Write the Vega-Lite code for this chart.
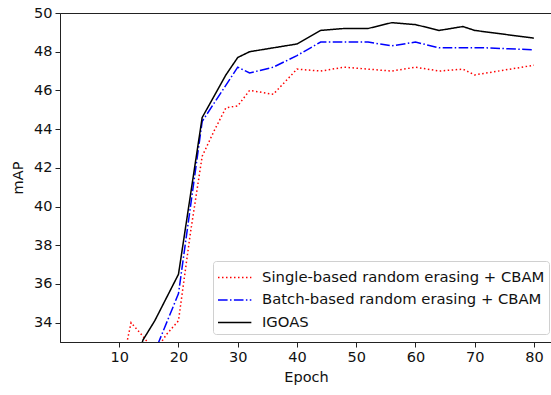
{
  "$schema": "https://vega.github.io/schema/vega-lite/v6.json",
  "width": 492,
  "height": 329,
  "autosize": {"type": "none"},
  "padding": {"left": 60, "top": 13, "right": 0, "bottom": 53},
  "background": "white",
  "config": {
    "view": {"stroke": "#222222", "strokeWidth": 1},
    "font": "DejaVu Sans",
    "axis": {
      "grid": false,
      "domainColor": "#222222",
      "tickColor": "#222222",
      "tickSize": 5,
      "labelFontSize": 14.5,
      "labelColor": "#111111",
      "labelFont": "DejaVu Sans",
      "titleFont": "DejaVu Sans",
      "titleFontSize": 14.5,
      "titleFontWeight": "normal",
      "titleColor": "#111111",
      "labelPadding": 3
    },
    "legend": {
      "labelFont": "DejaVu Sans",
      "labelFontSize": 14.8,
      "labelColor": "#111111"
    }
  },
  "data": {
    "values": [
      {"epoch": 10, "mAP": 31.1, "method": "Single-based random erasing + CBAM"},
      {"epoch": 12, "mAP": 34.0, "method": "Single-based random erasing + CBAM"},
      {"epoch": 14, "mAP": 33.3, "method": "Single-based random erasing + CBAM"},
      {"epoch": 16, "mAP": 32.5, "method": "Single-based random erasing + CBAM"},
      {"epoch": 18, "mAP": 33.4, "method": "Single-based random erasing + CBAM"},
      {"epoch": 20, "mAP": 34.1, "method": "Single-based random erasing + CBAM"},
      {"epoch": 22, "mAP": 38.6, "method": "Single-based random erasing + CBAM"},
      {"epoch": 24, "mAP": 42.6, "method": "Single-based random erasing + CBAM"},
      {"epoch": 26, "mAP": 43.9, "method": "Single-based random erasing + CBAM"},
      {"epoch": 28, "mAP": 45.1, "method": "Single-based random erasing + CBAM"},
      {"epoch": 30, "mAP": 45.2, "method": "Single-based random erasing + CBAM"},
      {"epoch": 32, "mAP": 46.0, "method": "Single-based random erasing + CBAM"},
      {"epoch": 36, "mAP": 45.8, "method": "Single-based random erasing + CBAM"},
      {"epoch": 40, "mAP": 47.1, "method": "Single-based random erasing + CBAM"},
      {"epoch": 44, "mAP": 47.0, "method": "Single-based random erasing + CBAM"},
      {"epoch": 48, "mAP": 47.2, "method": "Single-based random erasing + CBAM"},
      {"epoch": 52, "mAP": 47.1, "method": "Single-based random erasing + CBAM"},
      {"epoch": 56, "mAP": 47.0, "method": "Single-based random erasing + CBAM"},
      {"epoch": 60, "mAP": 47.2, "method": "Single-based random erasing + CBAM"},
      {"epoch": 64, "mAP": 47.0, "method": "Single-based random erasing + CBAM"},
      {"epoch": 68, "mAP": 47.1, "method": "Single-based random erasing + CBAM"},
      {"epoch": 70, "mAP": 46.8, "method": "Single-based random erasing + CBAM"},
      {"epoch": 80, "mAP": 47.3, "method": "Single-based random erasing + CBAM"},

      {"epoch": 14, "mAP": 30.5, "method": "Batch-based random erasing + CBAM"},
      {"epoch": 16, "mAP": 32.5, "method": "Batch-based random erasing + CBAM"},
      {"epoch": 20, "mAP": 35.5, "method": "Batch-based random erasing + CBAM"},
      {"epoch": 24, "mAP": 44.4, "method": "Batch-based random erasing + CBAM"},
      {"epoch": 30, "mAP": 47.2, "method": "Batch-based random erasing + CBAM"},
      {"epoch": 32, "mAP": 46.9, "method": "Batch-based random erasing + CBAM"},
      {"epoch": 36, "mAP": 47.2, "method": "Batch-based random erasing + CBAM"},
      {"epoch": 40, "mAP": 47.8, "method": "Batch-based random erasing + CBAM"},
      {"epoch": 44, "mAP": 48.5, "method": "Batch-based random erasing + CBAM"},
      {"epoch": 48, "mAP": 48.5, "method": "Batch-based random erasing + CBAM"},
      {"epoch": 52, "mAP": 48.5, "method": "Batch-based random erasing + CBAM"},
      {"epoch": 56, "mAP": 48.3, "method": "Batch-based random erasing + CBAM"},
      {"epoch": 60, "mAP": 48.5, "method": "Batch-based random erasing + CBAM"},
      {"epoch": 64, "mAP": 48.2, "method": "Batch-based random erasing + CBAM"},
      {"epoch": 68, "mAP": 48.2, "method": "Batch-based random erasing + CBAM"},
      {"epoch": 72, "mAP": 48.2, "method": "Batch-based random erasing + CBAM"},
      {"epoch": 80, "mAP": 48.1, "method": "Batch-based random erasing + CBAM"},

      {"epoch": 12, "mAP": 31.0, "method": "IGOAS"},
      {"epoch": 14, "mAP": 33.1, "method": "IGOAS"},
      {"epoch": 16, "mAP": 34.1, "method": "IGOAS"},
      {"epoch": 20, "mAP": 36.5, "method": "IGOAS"},
      {"epoch": 24, "mAP": 44.6, "method": "IGOAS"},
      {"epoch": 28, "mAP": 46.8, "method": "IGOAS"},
      {"epoch": 30, "mAP": 47.7, "method": "IGOAS"},
      {"epoch": 32, "mAP": 48.0, "method": "IGOAS"},
      {"epoch": 36, "mAP": 48.2, "method": "IGOAS"},
      {"epoch": 40, "mAP": 48.4, "method": "IGOAS"},
      {"epoch": 44, "mAP": 49.1, "method": "IGOAS"},
      {"epoch": 48, "mAP": 49.2, "method": "IGOAS"},
      {"epoch": 52, "mAP": 49.2, "method": "IGOAS"},
      {"epoch": 56, "mAP": 49.5, "method": "IGOAS"},
      {"epoch": 60, "mAP": 49.4, "method": "IGOAS"},
      {"epoch": 64, "mAP": 49.1, "method": "IGOAS"},
      {"epoch": 68, "mAP": 49.3, "method": "IGOAS"},
      {"epoch": 70, "mAP": 49.1, "method": "IGOAS"},
      {"epoch": 80, "mAP": 48.7, "method": "IGOAS"}
    ]
  },
  "mark": {"type": "line", "clip": true, "strokeWidth": 1.5},
  "encoding": {
    "x": {
      "field": "epoch",
      "type": "quantitative",
      "scale": {"domain": [0, 83.05], "nice": false, "zero": false},
      "axis": {"values": [10, 20, 30, 40, 50, 60, 70, 80], "title": "Epoch", "titlePadding": 7}
    },
    "y": {
      "field": "mAP",
      "type": "quantitative",
      "scale": {"domain": [33, 50], "nice": false, "zero": false},
      "axis": {"values": [34, 36, 38, 40, 42, 44, 46, 48, 50], "title": "mAP", "titlePadding": 8}
    },
    "color": {
      "field": "method",
      "type": "nominal",
      "sort": ["Single-based random erasing + CBAM", "Batch-based random erasing + CBAM", "IGOAS"],
      "scale": {
        "domain": ["Single-based random erasing + CBAM", "Batch-based random erasing + CBAM", "IGOAS"],
        "range": ["#ff0000", "#0000ff", "#000000"]
      },
      "legend": {
        "title": null,
        "orient": "none",
        "legendX": 153,
        "legendY": 248,
        "symbolType": "M-1,0H1.9",
        "symbolSize": 529,
        "symbolStrokeWidth": 1.5,
        "labelLimit": 400,
        "labelOffset": 20,
        "rowPadding": 2.5,
        "padding": 4,
        "fillColor": "white",
        "strokeColor": "#d0d0d0",
        "cornerRadius": 3
      }
    },
    "strokeDash": {
      "field": "method",
      "type": "nominal",
      "scale": {
        "domain": ["Single-based random erasing + CBAM", "Batch-based random erasing + CBAM", "IGOAS"],
        "range": [[1.5, 2.5], [9.6, 2.4, 1.5, 2.4], [1, 0]]
      },
      "legend": null
    }
  }
}
